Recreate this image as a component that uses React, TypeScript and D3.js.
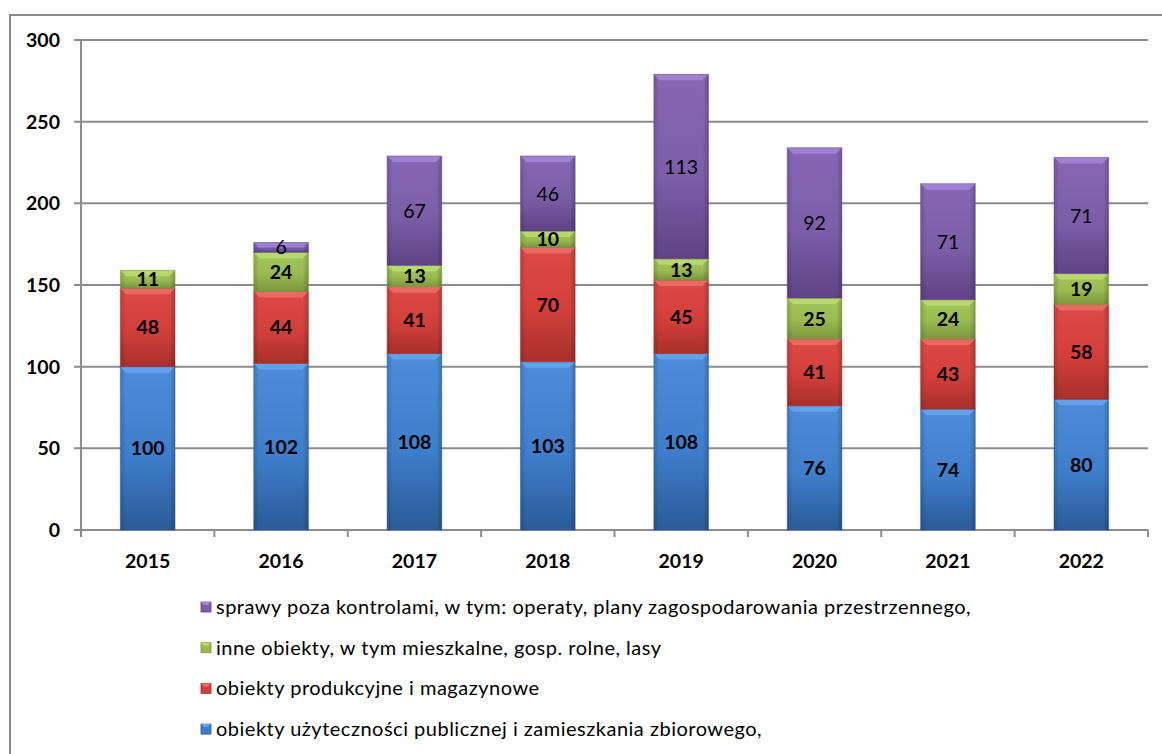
import React from 'react';
import * as d3 from 'd3';

const years = ['2015', '2016', '2017', '2018', '2019', '2020', '2021', '2022'];
const publiczne = [100, 102, 108, 103, 108, 76, 74, 80];
const produkcyjne = [48, 44, 41, 70, 45, 41, 43, 58];
const inne = [11, 24, 13, 10, 13, 25, 24, 19];
const sprawy = [0, 6, 67, 46, 113, 92, 71, 71];
const yTicks = [0, 50, 100, 150, 200, 250, 300];

const seriesNames = [
  'obiekty użyteczności publicznej i zamieszkania zbiorowego,',
  'obiekty produkcyjne i magazynowe',
  'inne obiekty, w tym mieszkalne, gosp. rolne, lasy',
  'sprawy poza kontrolami, w tym: operaty, plany zagospodarowania przestrzennego,',
];

const palette = [
  { top: '#4c8ddb', mid: '#3e7ecb', bot: '#2b5b98', bevel: '#66a6ee', bold: true },
  { top: '#de4a45', mid: '#d23f3a', bot: '#a8302c', bevel: '#ef6f69', bold: true },
  { top: '#a5c75c', mid: '#98ba4f', bot: '#7a963c', bevel: '#bcdb72', bold: true },
  { top: '#8767b4', mid: '#7c5ea8', bot: '#5f4385', bevel: '#a385d6', bold: false },
];

export default function App() {
  const W = 1162, H = 754;
  const x0 = 81, x1 = 1148, yTop = 40, yBot = 530;
  const x = d3.scaleBand().domain(years).range([x0, x1]).paddingInner(0.59).paddingOuter(0.295);
  const y = d3.scaleLinear().domain([0, 300]).range([yBot, yTop]);
  const step = (x1 - x0) / years.length;

  const rows = years.map((yr, i) => ({
    yr, publiczne: publiczne[i], produkcyjne: produkcyjne[i], inne: inne[i], sprawy: sprawy[i],
  }));
  const keys = ['publiczne', 'produkcyjne', 'inne', 'sprawy'];
  const stacked = d3.stack<any>().keys(keys)(rows);
  const font = 'Lato, "Open Sans", sans-serif';
  const bw = x.bandwidth();

  return (
    <svg width={W} height={H} style={{ position: 'absolute', left: 0, top: 0, background: '#fff' }}>
      <defs>
        {palette.map((p, k) => (
          <linearGradient key={k} id={`g${k}`} x1="0" y1="0" x2="0" y2="1">
            <stop offset="0%" stopColor={p.top} />
            <stop offset="55%" stopColor={p.mid} />
            <stop offset="100%" stopColor={p.bot} />
          </linearGradient>
        ))}
        <linearGradient id="side" x1="0" y1="0" x2="1" y2="0">
          <stop offset="0%" stopColor="#000" stopOpacity={0.15} />
          <stop offset="10%" stopColor="#000" stopOpacity={0} />
          <stop offset="90%" stopColor="#000" stopOpacity={0} />
          <stop offset="100%" stopColor="#000" stopOpacity={0.2} />
        </linearGradient>
      </defs>
      <rect x={10} y={15} width={1200} height={800} fill="#fff" stroke="#8a8a8a" strokeWidth={2} />

      {/* gridlines */}
      {yTicks.map(t => (
        <g key={t}>
          <line x1={x0 - 7} x2={x1} y1={y(t)} y2={y(t)} stroke="#8c8c8c" strokeWidth={2} />
          <text x={60} y={y(t)} dy="0.36em" textAnchor="end" fontFamily={font} fontWeight="bold" fontSize={19.5} fill="#000">{t}</text>
        </g>
      ))}
      <line x1={x0} x2={x0} y1={yTop} y2={yBot} stroke="#8c8c8c" strokeWidth={2} />
      {d3.range(years.length + 1).map(i => (
        <line key={i} x1={x0 + i * step} x2={x0 + i * step} y1={yBot} y2={yBot + 7} stroke="#8c8c8c" strokeWidth={2} />
      ))}

      {/* bars */}
      {stacked.map((s, k) => (
        <g key={k}>
          {s.map((d, i) => {
            const v = d[1] - d[0];
            if (v <= 0) return null;
            const bx = x(years[i]) as number;
            const top = y(d[1]);
            const bottom = y(d[0]);
            const h = bottom - top;
            const b = Math.min(6, h / 2);
            const p = palette[k];
            return (
              <g key={i}>
                <rect x={bx} y={top} width={bw} height={h} fill={`url(#g${k})`} />
                <rect x={bx} y={top} width={bw} height={h} fill="url(#side)" />
                <polygon points={`${bx},${top} ${bx + bw},${top} ${bx + bw - b},${top + b} ${bx + b},${top + b}`} fill={p.bevel} opacity={0.85} />
                <rect x={bx} y={top} width={bw} height={h} fill="none" stroke={p.bot} strokeOpacity={0.45} strokeWidth={1} />
              </g>
            );
          })}
        </g>
      ))}

      {/* labels */}
      {stacked.map((s, k) => (
        <g key={`l${k}`}>
          {s.map((d, i) => {
            const v = d[1] - d[0];
            if (v <= 0) return null;
            const cx = (x(years[i]) as number) + bw / 2;
            const cy = (y(d[0]) + y(d[1])) / 2;
            return (
              <text key={i} x={cx} y={cy} dy="0.36em" textAnchor="middle" fontFamily={font}
                fontWeight={palette[k].bold ? 'bold' : 'normal'} fontSize={19.5} fill="#000">{v}</text>
            );
          })}
        </g>
      ))}

      {/* x labels */}
      {years.map(yr => (
        <text key={yr} x={(x(yr) as number) + bw / 2} y={561} dy="0.36em" textAnchor="middle" fontFamily={font} fontWeight="bold" fontSize={19.5} fill="#000">{yr}</text>
      ))}

      {/* legend */}
      {[3, 2, 1, 0].map((k, j) => {
        const ly = 607 + j * 40.7;
        const p = palette[k];
        return (
          <g key={k}>
            <rect x={201} y={ly - 5} width={10} height={10} fill={p.mid} stroke={p.bot} strokeWidth={0.8} />
            <polygon points={`${201},${ly - 5} ${211},${ly - 5} ${208},${ly - 2} ${204},${ly - 2}`} fill={p.bevel} />
            <text x={216} y={ly} dy="0.35em" fontFamily={font} fontSize={20} letterSpacing={0.5} fill="#000">{seriesNames[k]}</text>
          </g>
        );
      })}
    </svg>
  );
}
